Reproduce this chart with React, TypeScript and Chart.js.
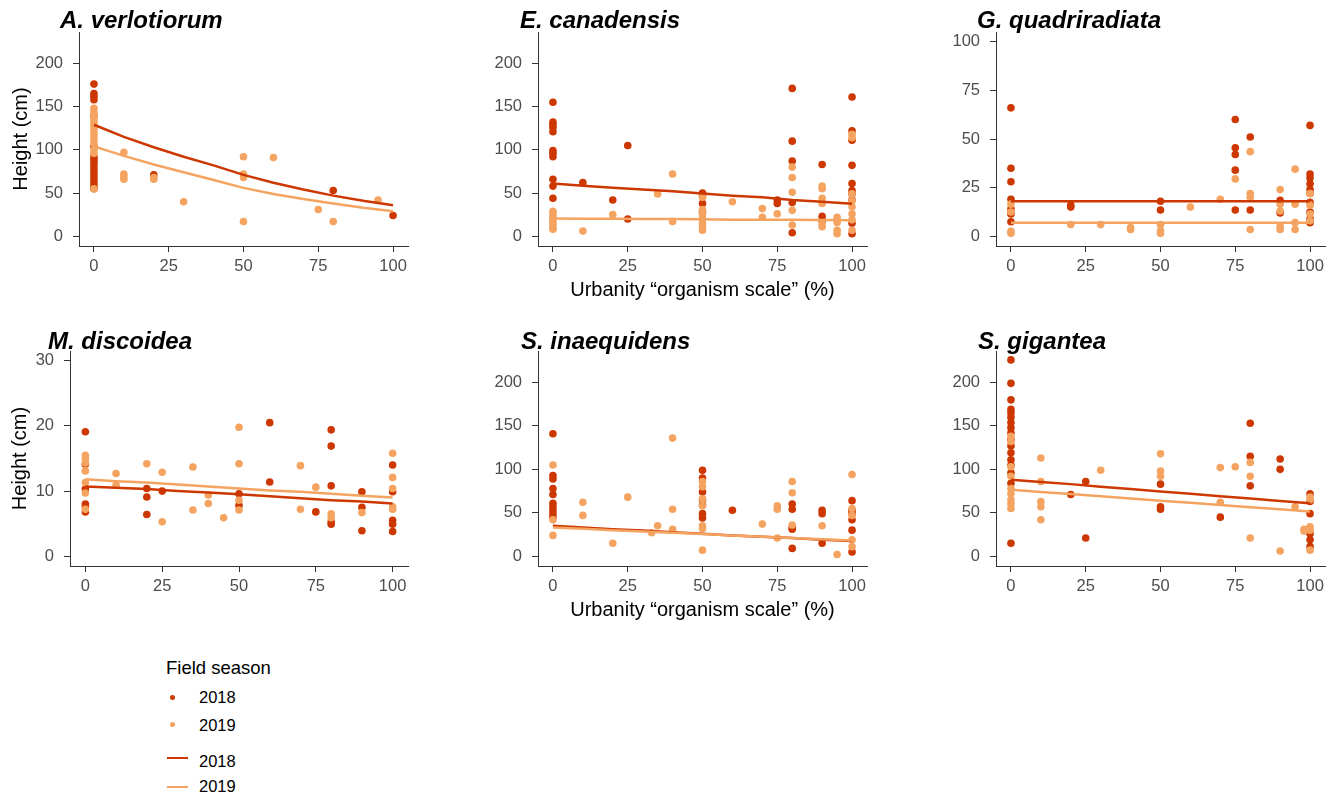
import React, { useEffect, useRef } from 'react';
import { Chart, registerables } from 'chart.js';

Chart.register(...registerables);

const C2018 = '#CD3700';
const C2019 = '#F4A460';
const FONT = "'Liberation Sans', Arial, Helvetica, sans-serif";

type P = [number, number];

// ---------- tick labels ----------
const xTicks = [0, 25, 50, 75, 100];
const yTicksTall = [0, 50, 100, 150, 200];
const yTicksGq = [0, 25, 50, 75, 100];
const yTicksMd = [0, 10, 20, 30];

// ---------- fitted lines (urbanity 0..100) ----------
const lineX = [0, 10, 20, 30, 40, 50, 60, 70, 80, 90, 100];
const avLine2018 = [129, 115, 103, 92, 82, 71, 62, 54, 47, 41, 36];
const avLine2019 = [104, 93, 83, 74, 65, 56, 49, 43, 38, 33, 29];
const ecLine2018 = [61, 58.5, 56, 54, 52, 49.5, 47, 45, 42, 40, 37.5];
const ecLine2019 = [20.5, 20.4, 20.2, 20, 19.9, 19.8, 19.2, 19.1, 19, 18.8, 18.6];
const gqLine2018 = [18, 18, 18, 18, 18, 18, 18, 18, 18, 18, 18];
const gqLine2019 = [7, 7, 7, 7, 7, 7, 7, 7, 7, 7, 7];
const mdLine2018 = [10.7, 10.5, 10.3, 10.0, 9.8, 9.5, 9.2, 8.9, 8.6, 8.4, 8.1];
const mdLine2019 = [11.8, 11.5, 11.3, 11.0, 10.7, 10.4, 10.1, 9.9, 9.6, 9.3, 9.0];
const siLine2018 = [35, 33, 31, 29.5, 27.5, 26, 24, 22.5, 21, 19, 17.5];
const siLine2019 = [33, 31.5, 30, 28.5, 27, 25.5, 24, 22.5, 21, 19.5, 18];
const sgLine2018 = [88, 85.5, 83, 80, 77.5, 74.5, 72, 69, 66.5, 63.5, 61];
const sgLine2019 = [76.5, 74, 71.5, 69, 66.5, 64, 61.5, 59, 56.5, 54, 51.5];

// ---------- observed plants [urbanity %, height] ----------
const avPts2018: P[] = [
  [0, 176], [0, 165], [0, 162], [0, 158], [0, 140], [0, 104], [0, 92], [0, 89], [0, 86], [0, 82],
  [0, 78], [0, 74], [0, 70], [0, 66], [0, 62], [0, 58], [0, 55], [20, 71], [80, 53], [100, 24],
];
const avPts2019: P[] = [
  [0, 148], [0, 144], [0, 140], [0, 136], [0, 132], [0, 128], [0, 124], [0, 120], [0, 116], [0, 112],
  [0, 107], [0, 100], [0, 96], [0, 55], [10, 97], [10, 72], [10, 69], [10, 66], [20, 68], [20, 66],
  [30, 40], [50, 92], [50, 72], [50, 68], [50, 17], [60, 91], [75, 31], [80, 17], [95, 42],
];
const ecPts2018: P[] = [
  [0, 155], [0, 132], [0, 129], [0, 126], [0, 121], [0, 99], [0, 96], [0, 92], [0, 66], [0, 58],
  [0, 44], [10, 62], [20, 42], [25, 105], [25, 20], [50, 50], [50, 47], [50, 38], [50, 28],
  [75, 42], [75, 38], [80, 171], [80, 110], [80, 87], [80, 39], [80, 4], [90, 83], [90, 23], [90, 18],
  [100, 161], [100, 122], [100, 111], [100, 82], [100, 61], [100, 53], [100, 49], [100, 42], [100, 15], [100, 3],
];
const ecPts2019: P[] = [
  [0, 29], [0, 26], [0, 22], [0, 19], [0, 16], [0, 13], [0, 10], [0, 8], [10, 6], [20, 25],
  [35, 49], [40, 72], [40, 17], [50, 45], [50, 31], [50, 25], [50, 20], [50, 15], [50, 10], [50, 7],
  [60, 40], [70, 32], [70, 22], [75, 26], [80, 80], [80, 68], [80, 51], [80, 30], [80, 13],
  [90, 58], [90, 55], [90, 44], [90, 38], [90, 14], [90, 11], [95, 22], [95, 16], [95, 7], [95, 3],
  [100, 118], [100, 114], [100, 49], [100, 41], [100, 34], [100, 26], [100, 19], [100, 7],
];
const gqPts2018: P[] = [
  [0, 66], [0, 35], [0, 28], [0, 19], [0, 14], [0, 11.5], [0, 7.5], [20, 16], [20, 15], [50, 18],
  [50, 13.5], [75, 60], [75, 45.5], [75, 42], [75, 34], [75, 13.5], [80, 51], [80, 13.5], [90, 18.5], [90, 12],
  [100, 57], [100, 32], [100, 30], [100, 27], [100, 24], [100, 22], [100, 17.5], [100, 12.5], [100, 9], [100, 7],
];
const gqPts2019: P[] = [
  [0, 16.5], [0, 12.5], [0, 2.5], [0, 1.5], [20, 6], [30, 6], [40, 4.5], [40, 3.5], [50, 6], [50, 3],
  [50, 1.5], [60, 15], [70, 19], [75, 29.5], [80, 43.5], [80, 22], [80, 20], [80, 3.5], [90, 24], [90, 16.5],
  [90, 13], [90, 5], [90, 3.5], [95, 34.5], [95, 16.5], [95, 7], [95, 3.5], [100, 22], [100, 16], [100, 11.5], [100, 8],
];
const mdPts2018: P[] = [
  [0, 19.1], [0, 14.1], [0, 10.3], [0, 8], [0, 7.6], [0, 6.8], [20, 10.4], [20, 9.1], [20, 6.4], [25, 10],
  [50, 9.6], [50, 7.8], [60, 20.5], [60, 11.4], [75, 6.8], [80, 19.4], [80, 16.9], [80, 10.8], [80, 5.3], [80, 4.9],
  [90, 9.9], [90, 7.5], [90, 3.9], [100, 14], [100, 9.9], [100, 5.5], [100, 4.9], [100, 3.8],
];
const mdPts2019: P[] = [
  [0, 15.5], [0, 15], [0, 14.3], [0, 13.1], [0, 11.3], [0, 9.7], [0, 7.2], [10, 12.7], [10, 10.9], [20, 14.2],
  [25, 12.9], [25, 5.3], [35, 13.7], [35, 7.1], [40, 9.4], [40, 8.1], [45, 5.9], [50, 19.8], [50, 14.2], [50, 8.6],
  [50, 7.1], [70, 13.9], [70, 7.2], [75, 10.6], [80, 6.5], [80, 5.9], [90, 6.7], [100, 15.8], [100, 12.1], [100, 10.4],
  [100, 7.6], [100, 7.2],
];
const siPts2018: P[] = [
  [0, 141], [0, 93], [0, 89], [0, 78], [0, 71], [0, 61], [0, 57], [0, 53], [0, 49], [0, 45],
  [50, 99], [50, 90], [50, 74], [50, 65], [50, 59], [50, 49], [50, 44], [60, 53], [80, 60], [80, 54],
  [80, 33], [80, 31], [80, 9], [90, 53], [90, 49], [90, 15], [100, 64], [100, 53], [100, 49], [100, 42], [100, 30], [100, 5],
];
const siPts2019: P[] = [
  [0, 105], [0, 42], [0, 24], [10, 62], [10, 47], [20, 15], [25, 68], [33, 27], [35, 35], [40, 136],
  [40, 54], [40, 31], [50, 86], [50, 80], [50, 66], [50, 58], [50, 35], [50, 32], [50, 7], [70, 37],
  [75, 58], [75, 54], [75, 21], [80, 86], [80, 73], [80, 36], [90, 35], [95, 2], [100, 94], [100, 55],
  [100, 47], [100, 19], [100, 11],
];
const sgPts2018: P[] = [
  [0, 226], [0, 199], [0, 180], [0, 169], [0, 165], [0, 160], [0, 154], [0, 148], [0, 142], [0, 134],
  [0, 127], [0, 119], [0, 111], [0, 105], [0, 96], [0, 84], [0, 15], [20, 71], [25, 86], [25, 21],
  [50, 83], [50, 57], [50, 54], [70, 45], [80, 153], [80, 115], [80, 81], [90, 112], [90, 100],
  [100, 72], [100, 63], [100, 49], [100, 26], [100, 19], [100, 11],
];
const sgPts2019: P[] = [
  [0, 138], [0, 132], [0, 103], [0, 92], [0, 78], [0, 72], [0, 65], [0, 60], [0, 55], [10, 113],
  [10, 86], [10, 63], [10, 57], [10, 42], [30, 99], [50, 118], [50, 98], [50, 92], [70, 102], [70, 62],
  [75, 103], [80, 108], [80, 92], [80, 21], [90, 6], [95, 57], [98, 31], [98, 29], [100, 68], [100, 65],
  [100, 34], [100, 30], [100, 7],
];

const PAD_TOP = 24;
const PAD_RIGHT = 8;
const BOTTOM_H = 60;
const ROW1 = { top: 32, bottom: 246, titleBase: 28.3 };
const ROW2 = { top: 351, bottom: 566, titleBase: 349.3 };

interface Spec {
  title: string;
  titleLeft: number;
  row: { top: number; bottom: number; titleBase: number };
  canvasLeft: number;
  plotLeft: number;
  plotRight: number;
  yMin: number;
  yMax: number;
  yTicks: number[];
  yTitle: boolean;
  yTitlePad: number;
  xTitle: boolean;
  pts18: P[];
  pts19: P[];
  line18: number[];
  line19: number[];
}

const specs: Spec[] = [
  { title: 'A. verlotiorum', titleLeft: 60, row: ROW1, canvasLeft: 0, plotLeft: 79, plotRight: 408, yMin: -11.25, yMax: 236.25, yTicks: yTicksTall, yTitle: true, yTitlePad: 9, xTitle: false, pts18: avPts2018, pts19: avPts2019, line18: avLine2018, line19: avLine2019 },
  { title: 'E. canadensis', titleLeft: 520, row: ROW1, canvasLeft: 460, plotLeft: 538, plotRight: 867, yMin: -11.25, yMax: 236.25, yTicks: yTicksTall, yTitle: false, yTitlePad: 0, xTitle: true, pts18: ecPts2018, pts19: ecPts2019, line18: ecLine2018, line19: ecLine2019 },
  { title: 'G. quadriradiata', titleLeft: 977, row: ROW1, canvasLeft: 930, plotLeft: 996, plotRight: 1325, yMin: -5, yMax: 105, yTicks: yTicksGq, yTitle: false, yTitlePad: 0, xTitle: false, pts18: gqPts2018, pts19: gqPts2019, line18: gqLine2018, line19: gqLine2019 },
  { title: 'M. discoidea', titleLeft: 48, row: ROW2, canvasLeft: 0, plotLeft: 70, plotRight: 408, yMin: -1.5, yMax: 31.5, yTicks: yTicksMd, yTitle: true, yTitlePad: 8, xTitle: false, pts18: mdPts2018, pts19: mdPts2019, line18: mdLine2018, line19: mdLine2019 },
  { title: 'S. inaequidens', titleLeft: 521, row: ROW2, canvasLeft: 460, plotLeft: 538, plotRight: 867, yMin: -11.25, yMax: 236.25, yTicks: yTicksTall, yTitle: false, yTitlePad: 0, xTitle: true, pts18: siPts2018, pts19: siPts2019, line18: siLine2018, line19: siLine2019 },
  { title: 'S. gigantea', titleLeft: 978, row: ROW2, canvasLeft: 930, plotLeft: 996, plotRight: 1325, yMin: -11.25, yMax: 236.25, yTicks: yTicksTall, yTitle: false, yTitlePad: 0, xTitle: false, pts18: sgPts2018, pts19: sgPts2019, line18: sgLine2018, line19: sgLine2019 },
];

function Panel({ spec }: { spec: Spec }) {
  const ref = useRef<HTMLCanvasElement>(null);
  const canvasTop = spec.row.top - PAD_TOP;
  const cw = spec.plotRight + PAD_RIGHT - spec.canvasLeft;
  const ch = spec.row.bottom + BOTTOM_H - canvasTop;
  const yWidth = spec.plotLeft - spec.canvasLeft;

  useEffect(() => {
    if (!ref.current) return;
    const tickFont = { family: FONT, size: 16.5 };
    const chart = new Chart(ref.current, {
      type: 'scatter',
      data: {
        datasets: [
          {
            type: 'line',
            data: lineX.map((x, i) => ({ x, y: spec.line19[i] })),
            borderColor: C2019,
            borderWidth: 2.5,
            pointRadius: 0,
            fill: false,
            tension: 0,
          } as any,
          {
            type: 'line',
            data: lineX.map((x, i) => ({ x, y: spec.line18[i] })),
            borderColor: C2018,
            borderWidth: 2.5,
            pointRadius: 0,
            fill: false,
            tension: 0,
          } as any,
          {
            data: spec.pts19.map(([x, y]) => ({ x, y })),
            backgroundColor: C2019,
            borderWidth: 0,
            pointRadius: 3.8,
          },
          {
            data: spec.pts18.map(([x, y]) => ({ x, y })),
            backgroundColor: C2018,
            borderWidth: 0,
            pointRadius: 3.8,
          },
        ],
      },
      options: {
        animation: false,
        responsive: false,
        devicePixelRatio: 1,
        events: [],
        layout: { padding: { top: PAD_TOP, right: PAD_RIGHT, left: 0, bottom: 0 } },
        plugins: { legend: { display: false }, tooltip: { enabled: false } },
        scales: {
          x: {
            type: 'linear',
            min: -5,
            max: 105,
            afterBuildTicks: (s: any) => {
              s.ticks = xTicks.map((v) => ({ value: v }));
            },
            afterFit: (s: any) => {
              s.height = BOTTOM_H;
            },
            grid: { display: true, drawOnChartArea: false, drawTicks: true, tickLength: 6, color: '#333333', lineWidth: 1 },
            border: { display: true, color: '#333333', width: 1 },
            ticks: { color: '#4D4D4D', font: tickFont, padding: 5, maxRotation: 0, autoSkip: false },
            title: {
              display: spec.xTitle,
              text: 'Urbanity “organism scale” (%)',
              color: '#000000',
              font: { family: FONT, size: 20 },
              padding: { top: 0, bottom: 4 },
            },
          },
          y: {
            type: 'linear',
            min: spec.yMin,
            max: spec.yMax,
            afterBuildTicks: (s: any) => {
              s.ticks = spec.yTicks.map((v) => ({ value: v }));
            },
            afterFit: (s: any) => {
              s.width = yWidth;
            },
            grid: { display: true, drawOnChartArea: false, drawTicks: true, tickLength: 6, color: '#333333', lineWidth: 1 },
            border: { display: true, color: '#333333', width: 1 },
            ticks: { color: '#4D4D4D', font: tickFont, padding: 10, autoSkip: false },
            title: {
              display: spec.yTitle,
              text: 'Height (cm)',
              color: '#000000',
              font: { family: FONT, size: 20 },
              padding: { top: spec.yTitlePad, bottom: 0 },
            },
          },
        },
      } as any,
    });
    return () => chart.destroy();
  }, []);

  return (
    <canvas
      ref={ref}
      width={cw}
      height={ch}
      style={{ position: 'absolute', left: spec.canvasLeft, top: canvasTop, width: cw, height: ch }}
    />
  );
}

function Txt({ left, baseline, size, bold, italic, children }: { left: number; baseline: number; size: number; bold?: boolean; italic?: boolean; children: React.ReactNode }) {
  return (
    <div
      style={{
        position: 'absolute',
        left,
        top: baseline - 0.8465 * size,
        fontFamily: FONT,
        fontSize: size,
        lineHeight: `${size}px`,
        fontWeight: bold ? 'bold' : 'normal',
        fontStyle: italic ? 'italic' : 'normal',
        whiteSpace: 'nowrap',
        color: '#000',
      }}
    >
      {children}
    </div>
  );
}

export default function App() {
  return (
    <div style={{ position: 'absolute', left: 0, top: 0, width: 1333, height: 794, overflow: 'hidden', background: '#ffffff' }}>
      {specs.map((s, i) => (
        <Panel key={i} spec={s} />
      ))}
      {specs.map((s, i) => (
        <Txt key={'t' + i} left={s.titleLeft} baseline={s.row.titleBase} size={24} bold italic>
          {s.title}
        </Txt>
      ))}
      {/* legend */}
      <Txt left={166} baseline={675} size={18.5}>Field season</Txt>
      <div style={{ position: 'absolute', left: 170.2, top: 694.8, width: 5, height: 5, borderRadius: '50%', background: C2018 }} />
      <Txt left={199} baseline={703.3} size={16.5}>2018</Txt>
      <div style={{ position: 'absolute', left: 170.2, top: 721.5, width: 5, height: 5, borderRadius: '50%', background: C2019 }} />
      <Txt left={199} baseline={731} size={16.5}>2019</Txt>
      <div style={{ position: 'absolute', left: 167, top: 756.5, width: 21, height: 2.2, background: C2018 }} />
      <Txt left={199} baseline={766.5} size={16.5}>2018</Txt>
      <div style={{ position: 'absolute', left: 167, top: 785.5, width: 21, height: 2.2, background: C2019 }} />
      <Txt left={199} baseline={791.5} size={16.5}>2019</Txt>
    </div>
  );
}
